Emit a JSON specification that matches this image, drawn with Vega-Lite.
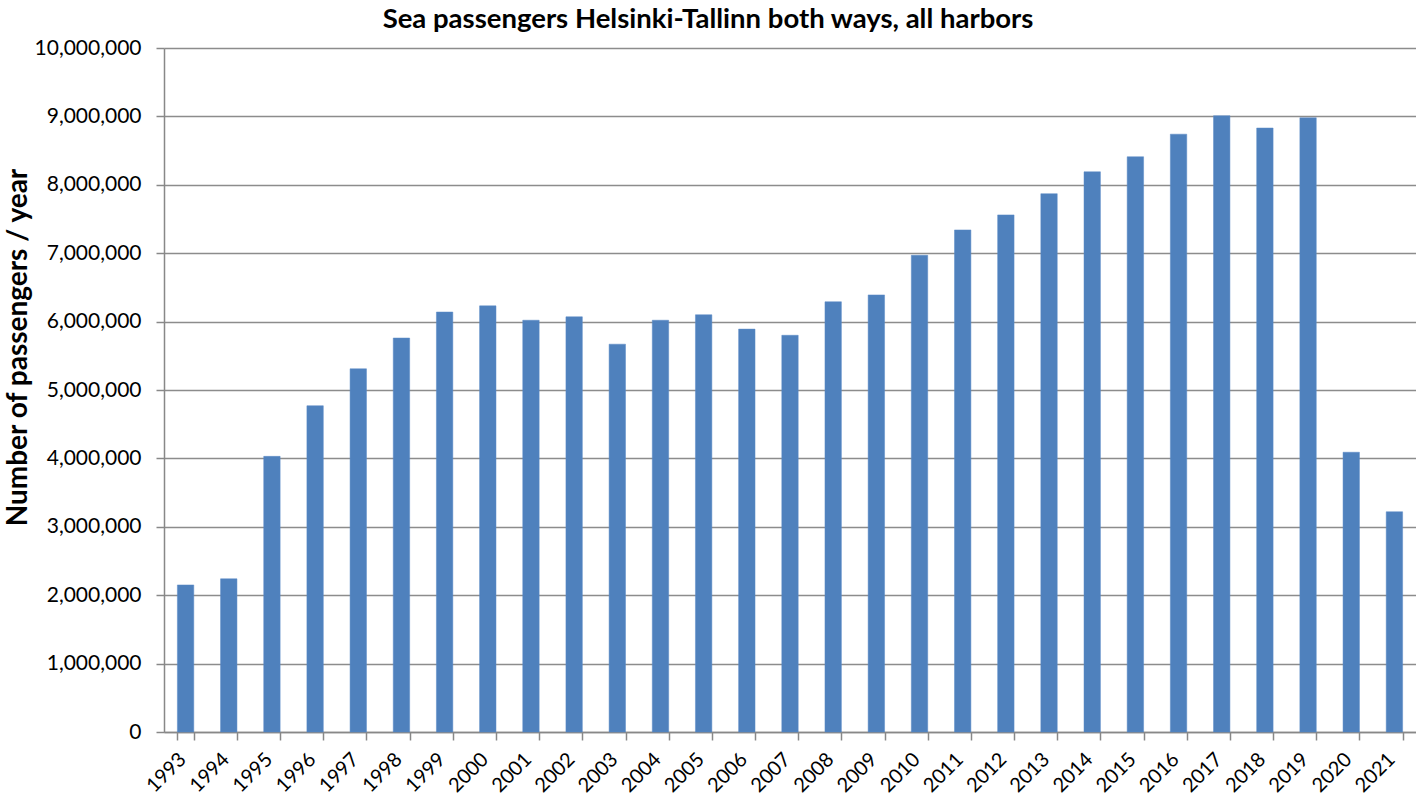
{
  "$schema": "https://vega.github.io/schema/vega-lite/v6.json",
  "autosize": "none",
  "width": 1252,
  "height": 684,
  "padding": {"left": 164, "top": 48, "right": 0, "bottom": 66},
  "background": "white",
  "title": {
    "text": "Sea passengers Helsinki-Tallinn both ways, all harbors",
    "font": "Lato",
    "fontSize": 27.5,
    "fontWeight": "bold",
    "color": "#000000",
    "anchor": "middle",
    "dx": -82,
    "offset": 4
  },
  "data": {
    "values": [
      {"year": "1993", "passengers": 2150000},
      {"year": "1994", "passengers": 2240000},
      {"year": "1995", "passengers": 4030000},
      {"year": "1996", "passengers": 4770000},
      {"year": "1997", "passengers": 5310000},
      {"year": "1998", "passengers": 5760000},
      {"year": "1999", "passengers": 6140000},
      {"year": "2000", "passengers": 6230000},
      {"year": "2001", "passengers": 6020000},
      {"year": "2002", "passengers": 6070000},
      {"year": "2003", "passengers": 5670000},
      {"year": "2004", "passengers": 6020000},
      {"year": "2005", "passengers": 6100000},
      {"year": "2006", "passengers": 5890000},
      {"year": "2007", "passengers": 5800000},
      {"year": "2008", "passengers": 6290000},
      {"year": "2009", "passengers": 6390000},
      {"year": "2010", "passengers": 6970000},
      {"year": "2011", "passengers": 7340000},
      {"year": "2012", "passengers": 7560000},
      {"year": "2013", "passengers": 7870000},
      {"year": "2014", "passengers": 8190000},
      {"year": "2015", "passengers": 8410000},
      {"year": "2016", "passengers": 8740000},
      {"year": "2017", "passengers": 9010000},
      {"year": "2018", "passengers": 8830000},
      {"year": "2019", "passengers": 8980000},
      {"year": "2020", "passengers": 4090000},
      {"year": "2021", "passengers": 3220000}
    ]
  },
  "config": {
    "view": {"stroke": null},
    "axis": {"labelFont": "Lato", "titleFont": "Lato", "labelColor": "#000000", "titleColor": "#000000"}
  },
  "mark": {"type": "bar", "color": "#4F81BD", "stroke": "#5B8BC6", "strokeWidth": 0.5},
  "encoding": {
    "x": {
      "field": "year",
      "type": "ordinal",
      "scale": {"paddingInner": 0.62, "paddingOuter": 0.31},
      "axis": {
        "title": null,
        "labelAngle": -45,
        "labelFontSize": 20,
        "labelAlign": "right",
        "labelBaseline": "middle",
        "labelPadding": 16,
        "labelOffset": -3,
        "tickBand": "extent",
        "ticks": true,
        "tickSize": 8,
        "tickColor": "#888888",
        "domainColor": "#888888",
        "domainWidth": 1.5,
        "tickWidth": 1.5,
        "grid": false
      }
    },
    "y": {
      "field": "passengers",
      "type": "quantitative",
      "scale": {"domain": [0, 10000000], "nice": false},
      "axis": {
        "title": "Number of passengers / year",
        "titleFontSize": 28,
        "titleFontWeight": "bold",
        "titleAngle": -90,
        "titleX": -146,
        "titleY": 299,
        "titleAlign": "center",
        "titleBaseline": "middle",
        "values": [0, 1000000, 2000000, 3000000, 4000000, 5000000, 6000000, 7000000, 8000000, 9000000, 10000000],
        "format": ",d",
        "labelFontSize": 21,
        "labelPadding": 15,
        "tickSize": 8,
        "tickColor": "#888888",
        "tickWidth": 1.5,
        "domainColor": "#888888",
        "domainWidth": 1.5,
        "grid": true,
        "gridColor": "#8c8c8c",
        "gridWidth": 1.5
      }
    }
  }
}
